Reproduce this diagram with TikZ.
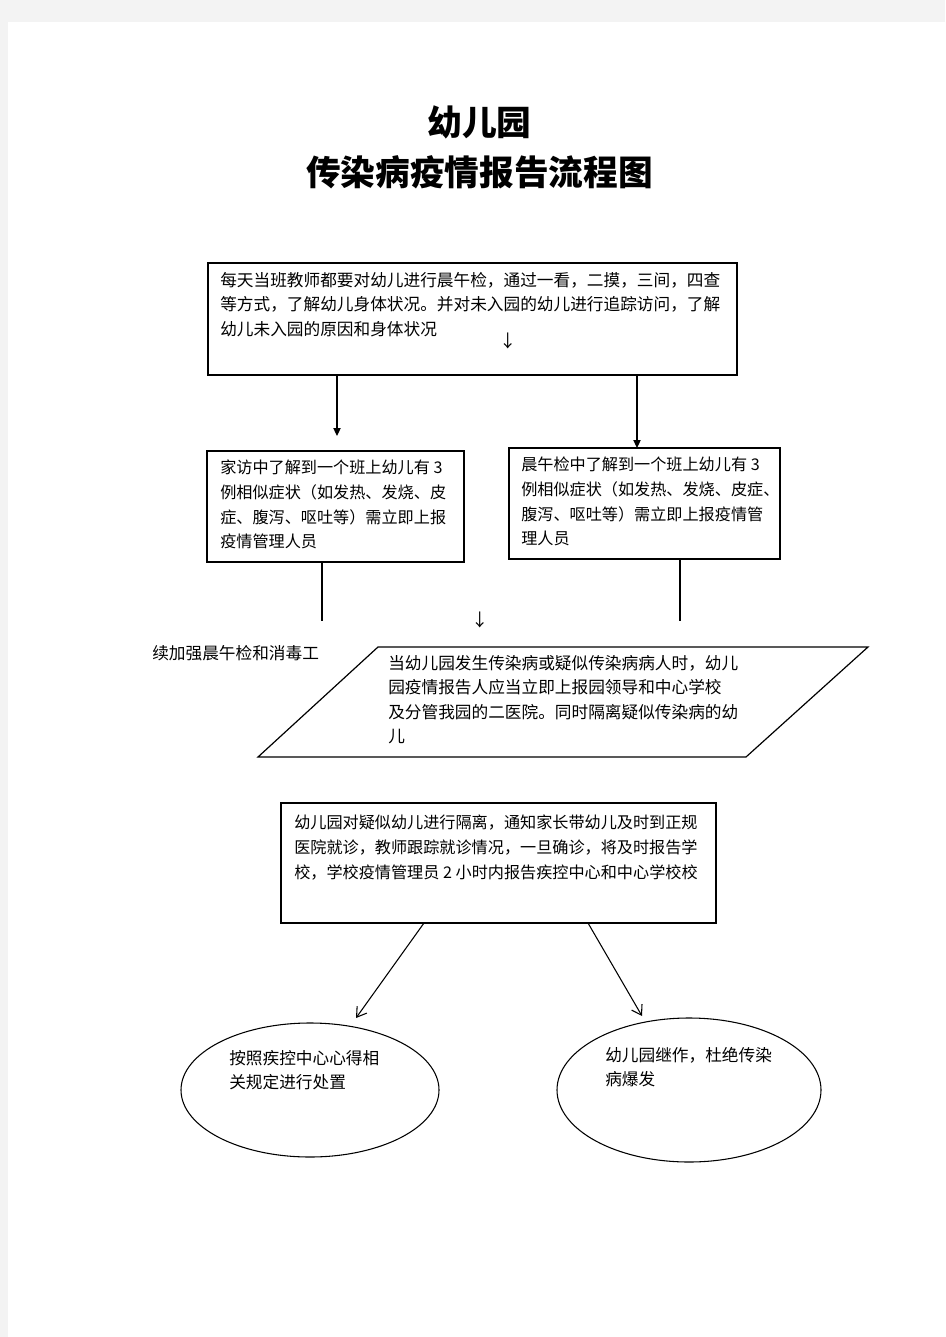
\documentclass[tikz,border=0pt]{standalone}
\usepackage{fontspec}
\setmainfont{Noto Sans CJK SC}
\usetikzlibrary{arrows.meta,shapes.geometric}
\definecolor{pagegray}{HTML}{F3F3F3}
\tikzset{
  boxshape/.style={draw=black, line width=0.9pt, inner sep=0pt, rectangle},
  ovalshape/.style={draw=black, line width=0.8pt, inner sep=0pt, ellipse},
  txt/.style={inner sep=0pt, align=left, anchor=north west, font=\fontsize{12.5}{18.4}\selectfont},
  txtsmall/.style={txt, font=\fontsize{12.1}{18.4}\selectfont},
  ttl/.style={inner sep=0pt, font=\fontsize{26}{30}\selectfont\bfseries},
  glyph/.style={inner sep=0pt, font=\fontsize{13}{15}\selectfont},
  conn/.style={draw=black, line width=0.8pt},
  varrow/.style={conn, -{Triangle[length=6pt,width=5.5pt]}},
  darrow/.style={conn, -{Straight Barb[length=7pt,width=9pt]}},
}
\begin{document}
\begin{tikzpicture}[x=0.75pt, y=-0.75pt]
  % page
  \fill[pagegray] (0,0) rectangle (945,1337);
  \fill[white] (8,22) rectangle (945,1337);
  \useasboundingbox (0,0) rectangle (945,1337);

  % title
  \node[ttl] (title1) at (479.5,122) {幼儿园};
  \node[ttl] (title2) at (479.5,172) {传染病疫情报告流程图};

  % box 1
  \node[boxshape, minimum width=396.75pt, minimum height=84pt] (b1) at (472.5,319) {};
  \node[txt] (t1) at (220,272) {每天当班教师都要对幼儿进行晨午检，通过一看，二摸，三间，四查\\等方式，了解幼儿身体状况。并对未入园的幼儿进行追踪访问，了解\\幼儿未入园的原因和身体状况};
  \node[glyph] (g1) at (508,341) {↓};

  % arrows from box 1
  \coordinate (a1) at (337,436);
  \coordinate (a2) at (637,448);
  \draw[varrow] (a1 |- b1.south) -- (a1);
  \draw[varrow] (a2 |- b1.south) -- (a2);

  % box 2
  \node[boxshape, minimum width=192.75pt, minimum height=83.25pt] (b2) at (335.5,506.5) {};
  \node[txtsmall] (t2) at (220,460) {家访中了解到一个班上幼儿有 3\\例相似症状（如发热、发烧、皮\\症、腹泻、呕吐等）需立即上报\\疫情管理人员};

  % box 3
  \node[boxshape, minimum width=203.25pt, minimum height=83.25pt] (b3) at (644.5,503.5) {};
  \node[txtsmall] (t3) at (521,457) {晨午检中了解到一个班上幼儿有 3\\例相似症状（如发热、发烧、皮症、\\腹泻、呕吐等）需立即上报疫情管\\理人员};

  % lines below boxes 2 and 3
  \coordinate (l2) at (322,621);
  \coordinate (l3) at (680,621);
  \draw[conn] (l2 |- b2.south) -- (l2);
  \draw[conn] (l3 |- b3.south) -- (l3);
  \node[glyph] (g2) at (480,620) {↓};

  % side label
  \node[txt] (side) at (152,645) {续加强晨午检和消毒工};

  % parallelogram
  \coordinate (p1) at (378,647);
  \coordinate (p2) at (868,647);
  \coordinate (p3) at (746,757);
  \coordinate (p4) at (258,757);
  \draw[line width=0.9pt] (p1) -- (p2) -- (p3) -- (p4) -- cycle;
  \node[txt] (tp) at (388,655) {当幼儿园发生传染病或疑似传染病病人时，幼儿\\园疫情报告人应当立即上报园领导和中心学校\\及分管我园的二医院。同时隔离疑似传染病的幼\\儿};

  % box 4
  \node[boxshape, minimum width=326.25pt, minimum height=90pt] (b4) at (498.5,863) {};
  \node[txtsmall] (t4) at (294,815) {幼儿园对疑似幼儿进行隔离，通知家长带幼儿及时到正规\\医院就诊，教师跟踪就诊情况，一旦确诊，将及时报告学\\校，学校疫情管理员 2 小时内报告疾控中心和中心学校校};

  % diagonal arrows
  \coordinate (s1) at (424,923);
  \coordinate (s2) at (588,923);
  \coordinate (d1) at (356,1018);
  \coordinate (d2) at (642,1016);
  \draw[darrow] (s1) -- (d1);
  \draw[darrow] (s2) -- (d2);

  % ellipses
  \node[ovalshape, minimum width=193.5pt, minimum height=100.5pt] (e1) at (310,1090) {};
  \node[ovalshape, minimum width=198pt, minimum height=108pt] (e2) at (689,1090) {};
  \node[txt] (te1) at (229,1050) {按照疾控中心心得相\\关规定进行处置};
  \node[txt] (te2) at (605,1047) {幼儿园继作，杜绝传染\\病爆发};
\end{tikzpicture}
\end{document}
